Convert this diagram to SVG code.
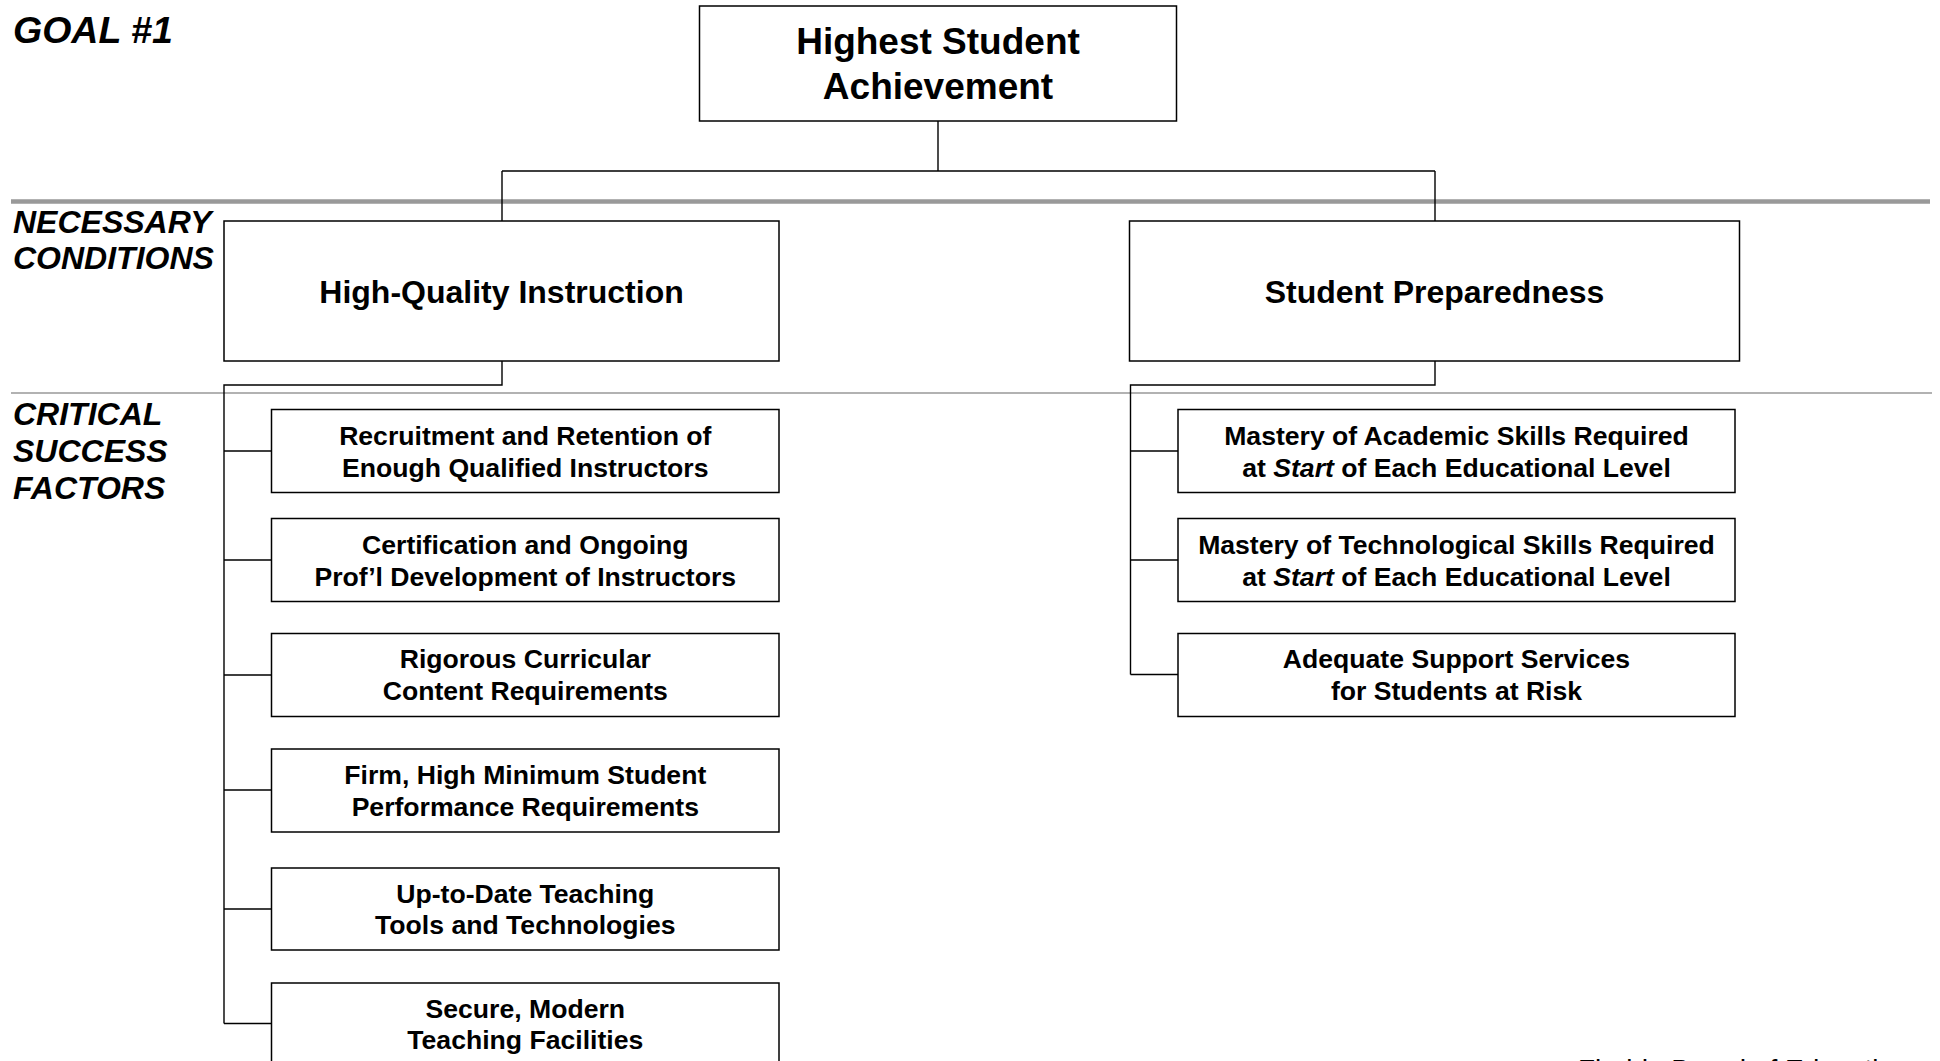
<svg xmlns="http://www.w3.org/2000/svg" width="1940" height="1061" viewBox="0 0 1940 1061">
  <style>
    .box { fill: #ffffff; stroke: #000000; stroke-width: 1.5; }
    .wire { fill: none; stroke: #000000; stroke-width: 1.4; }
    .t { font-family: "Liberation Sans", Arial, sans-serif; font-weight: bold; fill: #000000; text-anchor: middle; }
    .t37 { font-size: 37px; }
    .t32 { font-size: 32px; }
    .t26 { font-size: 26.6px; }
    .lbl { font-family: "Liberation Sans", Arial, sans-serif; font-weight: bold; font-style: italic; fill: #000000; font-size: 32px; }
    .it { font-style: italic; }
  </style>
  <rect width="1940" height="1061" fill="#ffffff"/>

  <!-- tier dividers -->
  <g id="dividers">
    <line x1="11" y1="201.5" x2="1930" y2="201.5" stroke="#999999" stroke-width="4.5"/>
    <line x1="11" y1="393" x2="1932" y2="393" stroke="#999999" stroke-width="1.5"/>
  </g>

  <!-- tier labels -->
  <g id="labels">
    <text class="lbl" x="13" y="43" style="font-size:37.5px">GOAL #1</text>
    <text class="lbl" x="13" y="233">NECESSARY</text>
    <text class="lbl" x="13" y="269">CONDITIONS</text>
    <text class="lbl" x="13" y="425">CRITICAL</text>
    <text class="lbl" x="13" y="462">SUCCESS</text>
    <text class="lbl" x="13" y="499">FACTORS</text>
  </g>

  <!-- connectors -->
  <g id="connectors">
    <path class="wire" d="M938 121 V171 M502 171 H1435 M502 171 V221 M1435 171 V221"/>
    <path class="wire" d="M502 361 V385 H224 V1023.5 M224 451 H271.5 M224 560 H271.5 M224 675 H271.5 M224 790 H271.5 M224 909 H271.5 M224 1023.5 H271.5"/>
    <path class="wire" d="M1435 361 V385 H1130.5 V674.5 M1130.5 451 H1178 M1130.5 560 H1178 M1130.5 674.5 H1178"/>
  </g>

  <!-- goal -->
  <g id="goal">
    <rect class="box" x="699.5" y="6" width="477" height="115"/>
    <text class="t t37" x="938" y="54">Highest Student</text>
    <text class="t t37" x="938" y="99">Achievement</text>
  </g>

  <!-- necessary conditions -->
  <g id="instruction">
    <rect class="box" x="224" y="221" width="555" height="140"/>
    <text class="t t32" x="501.5" y="303">High-Quality Instruction</text>
  </g>
  <g id="preparedness">
    <rect class="box" x="1129.5" y="221" width="610" height="140"/>
    <text class="t t32" x="1434.5" y="303">Student Preparedness</text>
  </g>

  <!-- critical success factors: instruction -->
  <g id="csf-recruitment">
    <rect class="box" x="271.5" y="409.5" width="507.5" height="83"/>
    <text class="t t26" x="525.3" y="444.5">Recruitment and Retention of</text>
    <text class="t t26" x="525.3" y="476.5">Enough Qualified Instructors</text>
  </g>
  <g id="csf-certification">
    <rect class="box" x="271.5" y="518.5" width="507.5" height="83"/>
    <text class="t t26" x="525.3" y="553.5">Certification and Ongoing</text>
    <text class="t t26" x="525.3" y="585.5">Prof’l Development of Instructors</text>
  </g>
  <g id="csf-curriculum">
    <rect class="box" x="271.5" y="633.5" width="507.5" height="83"/>
    <text class="t t26" x="525.3" y="668">Rigorous Curricular</text>
    <text class="t t26" x="525.3" y="700">Content Requirements</text>
  </g>
  <g id="csf-performance">
    <rect class="box" x="271.5" y="749" width="507.5" height="83"/>
    <text class="t t26" x="525.3" y="783.5">Firm, High Minimum Student</text>
    <text class="t t26" x="525.3" y="815.5">Performance Requirements</text>
  </g>
  <g id="csf-tools">
    <rect class="box" x="271.5" y="868" width="507.5" height="82"/>
    <text class="t t26" x="525.3" y="902.5">Up-to-Date Teaching</text>
    <text class="t t26" x="525.3" y="934">Tools and Technologies</text>
  </g>
  <g id="csf-facilities">
    <rect class="box" x="271.5" y="983" width="507.5" height="85"/>
    <text class="t t26" x="525.3" y="1018">Secure, Modern</text>
    <text class="t t26" x="525.3" y="1049">Teaching Facilities</text>
  </g>

  <!-- critical success factors: preparedness -->
  <g id="csf-academic">
    <rect class="box" x="1178" y="409.5" width="557" height="83"/>
    <text class="t t26" x="1456.5" y="444.5">Mastery of Academic Skills Required</text>
    <text class="t t26" x="1456.5" y="476.5">at <tspan class="it">Start</tspan> of Each Educational Level</text>
  </g>
  <g id="csf-technological">
    <rect class="box" x="1178" y="518.5" width="557" height="83"/>
    <text class="t t26" x="1456.5" y="553.5">Mastery of Technological Skills Required</text>
    <text class="t t26" x="1456.5" y="585.5">at <tspan class="it">Start</tspan> of Each Educational Level</text>
  </g>
  <g id="csf-support">
    <rect class="box" x="1178" y="633.5" width="557" height="83"/>
    <text class="t t26" x="1456.5" y="668">Adequate Support Services</text>
    <text class="t t26" x="1456.5" y="700">for Students at Risk</text>
  </g>

  <!-- footer credit, running off the lower edge -->
  <g id="footer">
    <text x="1578" y="1079" style="font-family:'Liberation Sans', Arial, sans-serif; font-size:28px; fill:#000000">Florida Board of Education</text>
  </g>
</svg>
